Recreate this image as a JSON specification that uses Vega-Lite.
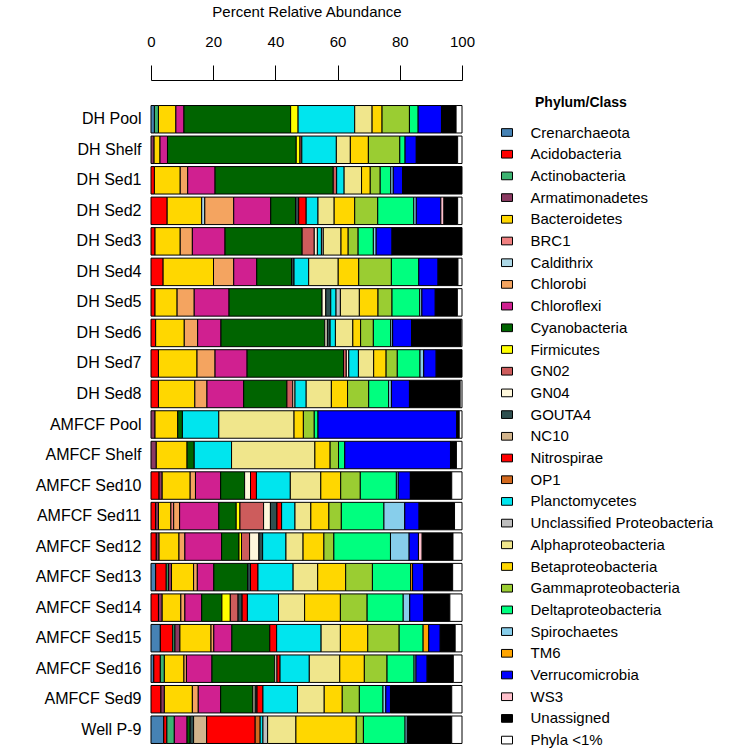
{
"$schema": "https://vega.github.io/schema/vega-lite/v6.json",
"width": 311, "height": 641,
"autosize": {"type": "none"},
"padding": {"left": 151, "top": 104, "right": 282, "bottom": 3},
"background": "white",
"config": {"view": {"stroke": null}, "font": "Liberation Sans"},
"datasets": {"ph": [
{"p":"Cren","n":"Crenarchaeota","k":1},{"p":"Acid","n":"Acidobacteria","k":2},{"p":"Acti","n":"Actinobacteria","k":3},{"p":"Arma","n":"Armatimonadetes","k":4},{"p":"Bact","n":"Bacteroidetes","k":5},{"p":"BRC1","n":"BRC1","k":6},{"p":"Cald","n":"Caldithrix","k":7},{"p":"Chlb","n":"Chlorobi","k":8},{"p":"Chlf","n":"Chloroflexi","k":9},{"p":"Cyan","n":"Cyanobacteria","k":10},{"p":"Firm","n":"Firmicutes","k":11},{"p":"GN02","n":"GN02","k":12},{"p":"GN04","n":"GN04","k":13},{"p":"GOUT","n":"GOUTA4","k":14},{"p":"NC10","n":"NC10","k":15},{"p":"Nitr","n":"Nitrospirae","k":16},{"p":"OP1","n":"OP1","k":17},{"p":"Plan","n":"Planctomycetes","k":18},{"p":"Uncl","n":"Unclassified Proteobacteria","k":19},{"p":"Alph","n":"Alphaproteobacteria","k":20},{"p":"Beta","n":"Betaproteobacteria","k":21},{"p":"Gamm","n":"Gammaproteobacteria","k":22},{"p":"Delt","n":"Deltaproteobacteria","k":23},{"p":"Spir","n":"Spirochaetes","k":24},{"p":"TM6","n":"TM6","k":25},{"p":"Verr","n":"Verrucomicrobia","k":26},{"p":"WS3","n":"WS3","k":27},{"p":"Unas","n":"Unassigned","k":28},{"p":"Phyl","n":"Phyla <1%","k":29}
]},
"data": {"values": [
{"s":"DH Pool","p":"Cren","v":1.1},{"s":"DH Pool","p":"Acti","v":1.3},{"s":"DH Pool","p":"Bact","v":5.6},{"s":"DH Pool","p":"Chlf","v":2.6},{"s":"DH Pool","p":"Cyan","v":34.3},{"s":"DH Pool","p":"Firm","v":2.4},{"s":"DH Pool","p":"Plan","v":18.2},{"s":"DH Pool","p":"Alph","v":5.6},{"s":"DH Pool","p":"Beta","v":3.2},{"s":"DH Pool","p":"Gamm","v":8.8},{"s":"DH Pool","p":"Delt","v":2.8},{"s":"DH Pool","p":"Verr","v":7.5},{"s":"DH Pool","p":"Unas","v":4.7},{"s":"DH Pool","p":"Phyl","v":1.9},
{"s":"DH Shelf","p":"Arma","v":1.0},{"s":"DH Shelf","p":"Bact","v":1.9},{"s":"DH Shelf","p":"Chlf","v":2.4},{"s":"DH Shelf","p":"Cyan","v":41.4},{"s":"DH Shelf","p":"Firm","v":1.2},{"s":"DH Shelf","p":"GN02","v":0.6},{"s":"DH Shelf","p":"Plan","v":11.1},{"s":"DH Shelf","p":"Alph","v":4.5},{"s":"DH Shelf","p":"Beta","v":5.8},{"s":"DH Shelf","p":"Gamm","v":10.1},{"s":"DH Shelf","p":"Delt","v":1.7},{"s":"DH Shelf","p":"Verr","v":3.6},{"s":"DH Shelf","p":"Unas","v":13.3},{"s":"DH Shelf","p":"Phyl","v":1.4},
{"s":"DH Sed1","p":"Acid","v":1.1},{"s":"DH Sed1","p":"Bact","v":8.3},{"s":"DH Sed1","p":"Chlb","v":2.4},{"s":"DH Sed1","p":"Chlf","v":8.8},{"s":"DH Sed1","p":"Cyan","v":38.0},{"s":"DH Sed1","p":"GN02","v":1.1},{"s":"DH Sed1","p":"Plan","v":2.4},{"s":"DH Sed1","p":"Alph","v":5.6},{"s":"DH Sed1","p":"Beta","v":2.8},{"s":"DH Sed1","p":"Gamm","v":3.2},{"s":"DH Sed1","p":"Delt","v":3.4},{"s":"DH Sed1","p":"Spir","v":0.8},{"s":"DH Sed1","p":"Verr","v":3.0},{"s":"DH Sed1","p":"Unas","v":19.1},
{"s":"DH Sed2","p":"Acid","v":5.2},{"s":"DH Sed2","p":"Bact","v":11.1},{"s":"DH Sed2","p":"Cald","v":1.0},{"s":"DH Sed2","p":"Chlb","v":9.3},{"s":"DH Sed2","p":"Chlf","v":11.9},{"s":"DH Sed2","p":"Cyan","v":8.0},{"s":"DH Sed2","p":"GOUT","v":1.0},{"s":"DH Sed2","p":"Nitr","v":2.4},{"s":"DH Sed2","p":"Plan","v":3.8},{"s":"DH Sed2","p":"Alph","v":5.2},{"s":"DH Sed2","p":"Beta","v":6.6},{"s":"DH Sed2","p":"Gamm","v":7.4},{"s":"DH Sed2","p":"Delt","v":11.6},{"s":"DH Sed2","p":"Spir","v":0.8},{"s":"DH Sed2","p":"Verr","v":7.9},{"s":"DH Sed2","p":"WS3","v":1.0},{"s":"DH Sed2","p":"Unas","v":4.4},{"s":"DH Sed2","p":"Phyl","v":1.4},
{"s":"DH Sed3","p":"Acid","v":1.3},{"s":"DH Sed3","p":"Bact","v":8.1},{"s":"DH Sed3","p":"Chlb","v":3.9},{"s":"DH Sed3","p":"Chlf","v":10.5},{"s":"DH Sed3","p":"Cyan","v":24.8},{"s":"DH Sed3","p":"GN02","v":3.9},{"s":"DH Sed3","p":"GN04","v":1.0},{"s":"DH Sed3","p":"Plan","v":1.3},{"s":"DH Sed3","p":"Uncl","v":0.6},{"s":"DH Sed3","p":"Alph","v":5.7},{"s":"DH Sed3","p":"Beta","v":2.3},{"s":"DH Sed3","p":"Gamm","v":3.2},{"s":"DH Sed3","p":"Delt","v":4.9},{"s":"DH Sed3","p":"Spir","v":0.9},{"s":"DH Sed3","p":"Verr","v":5.1},{"s":"DH Sed3","p":"Unas","v":22.5},
{"s":"DH Sed4","p":"Acid","v":3.9},{"s":"DH Sed4","p":"Bact","v":16.2},{"s":"DH Sed4","p":"Chlb","v":6.5},{"s":"DH Sed4","p":"Chlf","v":7.4},{"s":"DH Sed4","p":"Cyan","v":11.2},{"s":"DH Sed4","p":"GOUT","v":0.8},{"s":"DH Sed4","p":"Plan","v":4.7},{"s":"DH Sed4","p":"Alph","v":9.5},{"s":"DH Sed4","p":"Beta","v":6.6},{"s":"DH Sed4","p":"Gamm","v":10.5},{"s":"DH Sed4","p":"Delt","v":8.8},{"s":"DH Sed4","p":"Verr","v":6.2},{"s":"DH Sed4","p":"Unas","v":6.4},{"s":"DH Sed4","p":"Phyl","v":1.3},
{"s":"DH Sed5","p":"Acid","v":1.3},{"s":"DH Sed5","p":"Bact","v":7.1},{"s":"DH Sed5","p":"Chlb","v":5.5},{"s":"DH Sed5","p":"Chlf","v":11.2},{"s":"DH Sed5","p":"Cyan","v":29.9},{"s":"DH Sed5","p":"GN04","v":1.2},{"s":"DH Sed5","p":"GOUT","v":1.6},{"s":"DH Sed5","p":"Plan","v":1.7},{"s":"DH Sed5","p":"Uncl","v":1.4},{"s":"DH Sed5","p":"Alph","v":6.1},{"s":"DH Sed5","p":"Beta","v":6.0},{"s":"DH Sed5","p":"Gamm","v":4.5},{"s":"DH Sed5","p":"Delt","v":8.9},{"s":"DH Sed5","p":"Spir","v":0.7},{"s":"DH Sed5","p":"Verr","v":4.3},{"s":"DH Sed5","p":"Unas","v":7.1},{"s":"DH Sed5","p":"Phyl","v":1.5},
{"s":"DH Sed6","p":"Acid","v":1.5},{"s":"DH Sed6","p":"Bact","v":9.2},{"s":"DH Sed6","p":"Chlb","v":4.3},{"s":"DH Sed6","p":"Chlf","v":7.5},{"s":"DH Sed6","p":"Cyan","v":33.4},{"s":"DH Sed6","p":"GN04","v":0.8},{"s":"DH Sed6","p":"GOUT","v":0.9},{"s":"DH Sed6","p":"Plan","v":1.7},{"s":"DH Sed6","p":"Alph","v":5.6},{"s":"DH Sed6","p":"Beta","v":2.5},{"s":"DH Sed6","p":"Gamm","v":4.1},{"s":"DH Sed6","p":"Delt","v":5.6},{"s":"DH Sed6","p":"Spir","v":0.6},{"s":"DH Sed6","p":"Verr","v":6.1},{"s":"DH Sed6","p":"Unas","v":15.9},{"s":"DH Sed6","p":"Phyl","v":0.3},
{"s":"DH Sed7","p":"Acid","v":2.4},{"s":"DH Sed7","p":"Bact","v":12.4},{"s":"DH Sed7","p":"Chlb","v":5.8},{"s":"DH Sed7","p":"Chlf","v":10.3},{"s":"DH Sed7","p":"Cyan","v":31.0},{"s":"DH Sed7","p":"GN02","v":0.9},{"s":"DH Sed7","p":"GN04","v":0.8},{"s":"DH Sed7","p":"Plan","v":3.1},{"s":"DH Sed7","p":"Alph","v":4.9},{"s":"DH Sed7","p":"Beta","v":4.0},{"s":"DH Sed7","p":"Gamm","v":3.6},{"s":"DH Sed7","p":"Delt","v":7.3},{"s":"DH Sed7","p":"Spir","v":1.2},{"s":"DH Sed7","p":"Verr","v":4.0},{"s":"DH Sed7","p":"Unas","v":8.3},
{"s":"DH Sed8","p":"Acid","v":2.4},{"s":"DH Sed8","p":"Bact","v":11.7},{"s":"DH Sed8","p":"Chlb","v":3.9},{"s":"DH Sed8","p":"Chlf","v":11.8},{"s":"DH Sed8","p":"Cyan","v":13.9},{"s":"DH Sed8","p":"GN02","v":1.9},{"s":"DH Sed8","p":"GN04","v":0.7},{"s":"DH Sed8","p":"Plan","v":3.6},{"s":"DH Sed8","p":"Alph","v":8.1},{"s":"DH Sed8","p":"Beta","v":5.2},{"s":"DH Sed8","p":"Gamm","v":6.8},{"s":"DH Sed8","p":"Delt","v":6.4},{"s":"DH Sed8","p":"Spir","v":0.9},{"s":"DH Sed8","p":"Verr","v":5.8},{"s":"DH Sed8","p":"Unas","v":16.3},{"s":"DH Sed8","p":"Phyl","v":0.6},
{"s":"AMFCF Pool","p":"Arma","v":1.3},{"s":"AMFCF Pool","p":"Bact","v":7.3},{"s":"AMFCF Pool","p":"Cyan","v":1.5},{"s":"AMFCF Pool","p":"Plan","v":11.7},{"s":"AMFCF Pool","p":"Alph","v":24.2},{"s":"AMFCF Pool","p":"Beta","v":3.0},{"s":"AMFCF Pool","p":"Gamm","v":3.5},{"s":"AMFCF Pool","p":"Delt","v":1.2},{"s":"AMFCF Pool","p":"Verr","v":44.6},{"s":"AMFCF Pool","p":"Unas","v":0.8},{"s":"AMFCF Pool","p":"Phyl","v":0.9},
{"s":"AMFCF Shelf","p":"Arma","v":1.7},{"s":"AMFCF Shelf","p":"Bact","v":9.9},{"s":"AMFCF Shelf","p":"Cyan","v":2.3},{"s":"AMFCF Shelf","p":"Plan","v":12.0},{"s":"AMFCF Shelf","p":"Alph","v":26.8},{"s":"AMFCF Shelf","p":"Beta","v":4.9},{"s":"AMFCF Shelf","p":"Gamm","v":2.7},{"s":"AMFCF Shelf","p":"Delt","v":2.0},{"s":"AMFCF Shelf","p":"Verr","v":34.0},{"s":"AMFCF Shelf","p":"Unas","v":1.9},{"s":"AMFCF Shelf","p":"Phyl","v":1.8},
{"s":"AMFCF Sed10","p":"Acid","v":2.6},{"s":"AMFCF Sed10","p":"Arma","v":1.0},{"s":"AMFCF Sed10","p":"Bact","v":9.0},{"s":"AMFCF Sed10","p":"Chlb","v":1.7},{"s":"AMFCF Sed10","p":"Chlf","v":8.1},{"s":"AMFCF Sed10","p":"Cyan","v":7.7},{"s":"AMFCF Sed10","p":"GN04","v":1.9},{"s":"AMFCF Sed10","p":"Nitr","v":1.9},{"s":"AMFCF Sed10","p":"Plan","v":10.9},{"s":"AMFCF Sed10","p":"Alph","v":9.8},{"s":"AMFCF Sed10","p":"Beta","v":6.4},{"s":"AMFCF Sed10","p":"Gamm","v":6.3},{"s":"AMFCF Sed10","p":"Delt","v":11.6},{"s":"AMFCF Sed10","p":"Spir","v":0.6},{"s":"AMFCF Sed10","p":"Verr","v":3.9},{"s":"AMFCF Sed10","p":"Unas","v":13.3},{"s":"AMFCF Sed10","p":"Phyl","v":3.3},
{"s":"AMFCF Sed11","p":"Acid","v":1.5},{"s":"AMFCF Sed11","p":"Arma","v":0.9},{"s":"AMFCF Sed11","p":"Bact","v":4.0},{"s":"AMFCF Sed11","p":"BRC1","v":0.9},{"s":"AMFCF Sed11","p":"Chlb","v":1.9},{"s":"AMFCF Sed11","p":"Chlf","v":12.6},{"s":"AMFCF Sed11","p":"Cyan","v":5.6},{"s":"AMFCF Sed11","p":"Firm","v":1.2},{"s":"AMFCF Sed11","p":"GN02","v":7.6},{"s":"AMFCF Sed11","p":"GN04","v":2.2},{"s":"AMFCF Sed11","p":"GOUT","v":2.1},{"s":"AMFCF Sed11","p":"Nitr","v":1.5},{"s":"AMFCF Sed11","p":"Plan","v":4.3},{"s":"AMFCF Sed11","p":"Alph","v":5.1},{"s":"AMFCF Sed11","p":"Beta","v":5.8},{"s":"AMFCF Sed11","p":"Gamm","v":4.0},{"s":"AMFCF Sed11","p":"Delt","v":13.7},{"s":"AMFCF Sed11","p":"Spir","v":6.7},{"s":"AMFCF Sed11","p":"Verr","v":4.6},{"s":"AMFCF Sed11","p":"Unas","v":11.4},{"s":"AMFCF Sed11","p":"Phyl","v":2.4},
{"s":"AMFCF Sed12","p":"Acid","v":1.7},{"s":"AMFCF Sed12","p":"Arma","v":0.9},{"s":"AMFCF Sed12","p":"Bact","v":6.4},{"s":"AMFCF Sed12","p":"Chlb","v":1.9},{"s":"AMFCF Sed12","p":"Chlf","v":11.8},{"s":"AMFCF Sed12","p":"Cyan","v":5.6},{"s":"AMFCF Sed12","p":"Firm","v":0.8},{"s":"AMFCF Sed12","p":"GN02","v":2.6},{"s":"AMFCF Sed12","p":"GN04","v":3.0},{"s":"AMFCF Sed12","p":"GOUT","v":1.2},{"s":"AMFCF Sed12","p":"Plan","v":7.5},{"s":"AMFCF Sed12","p":"Alph","v":5.5},{"s":"AMFCF Sed12","p":"Beta","v":6.7},{"s":"AMFCF Sed12","p":"Gamm","v":3.2},{"s":"AMFCF Sed12","p":"Delt","v":18.2},{"s":"AMFCF Sed12","p":"Spir","v":6.0},{"s":"AMFCF Sed12","p":"Verr","v":3.0},{"s":"AMFCF Sed12","p":"WS3","v":1.2},{"s":"AMFCF Sed12","p":"Unas","v":9.9},{"s":"AMFCF Sed12","p":"Phyl","v":2.9},
{"s":"AMFCF Sed13","p":"Cren","v":1.5},{"s":"AMFCF Sed13","p":"Acid","v":3.4},{"s":"AMFCF Sed13","p":"Acti","v":0.7},{"s":"AMFCF Sed13","p":"Arma","v":1.0},{"s":"AMFCF Sed13","p":"Bact","v":7.1},{"s":"AMFCF Sed13","p":"Chlb","v":1.2},{"s":"AMFCF Sed13","p":"Chlf","v":5.3},{"s":"AMFCF Sed13","p":"Cyan","v":10.9},{"s":"AMFCF Sed13","p":"GOUT","v":0.9},{"s":"AMFCF Sed13","p":"Nitr","v":2.4},{"s":"AMFCF Sed13","p":"Plan","v":11.3},{"s":"AMFCF Sed13","p":"Alph","v":7.9},{"s":"AMFCF Sed13","p":"Beta","v":9.0},{"s":"AMFCF Sed13","p":"Gamm","v":8.6},{"s":"AMFCF Sed13","p":"Delt","v":12.3},{"s":"AMFCF Sed13","p":"TM6","v":0.6},{"s":"AMFCF Sed13","p":"Verr","v":3.6},{"s":"AMFCF Sed13","p":"Unas","v":9.3},{"s":"AMFCF Sed13","p":"Phyl","v":3.0},
{"s":"AMFCF Sed14","p":"Acid","v":2.4},{"s":"AMFCF Sed14","p":"Arma","v":1.2},{"s":"AMFCF Sed14","p":"Bact","v":6.0},{"s":"AMFCF Sed14","p":"Chlb","v":1.3},{"s":"AMFCF Sed14","p":"Chlf","v":5.4},{"s":"AMFCF Sed14","p":"Cyan","v":6.5},{"s":"AMFCF Sed14","p":"Firm","v":2.7},{"s":"AMFCF Sed14","p":"GN02","v":2.5},{"s":"AMFCF Sed14","p":"GOUT","v":1.3},{"s":"AMFCF Sed14","p":"Nitr","v":1.7},{"s":"AMFCF Sed14","p":"Plan","v":10.0},{"s":"AMFCF Sed14","p":"Alph","v":8.4},{"s":"AMFCF Sed14","p":"Beta","v":11.5},{"s":"AMFCF Sed14","p":"Gamm","v":8.6},{"s":"AMFCF Sed14","p":"Delt","v":11.6},{"s":"AMFCF Sed14","p":"Spir","v":2.1},{"s":"AMFCF Sed14","p":"Verr","v":4.5},{"s":"AMFCF Sed14","p":"Unas","v":8.4},{"s":"AMFCF Sed14","p":"Phyl","v":3.9},
{"s":"AMFCF Sed15","p":"Cren","v":3.0},{"s":"AMFCF Sed15","p":"Acid","v":4.0},{"s":"AMFCF Sed15","p":"Acti","v":0.7},{"s":"AMFCF Sed15","p":"Arma","v":1.6},{"s":"AMFCF Sed15","p":"Bact","v":10.0},{"s":"AMFCF Sed15","p":"Chlb","v":0.9},{"s":"AMFCF Sed15","p":"Chlf","v":5.8},{"s":"AMFCF Sed15","p":"Cyan","v":12.2},{"s":"AMFCF Sed15","p":"Nitr","v":2.2},{"s":"AMFCF Sed15","p":"Plan","v":14.3},{"s":"AMFCF Sed15","p":"Alph","v":6.2},{"s":"AMFCF Sed15","p":"Beta","v":8.8},{"s":"AMFCF Sed15","p":"Gamm","v":10.1},{"s":"AMFCF Sed15","p":"Delt","v":7.7},{"s":"AMFCF Sed15","p":"TM6","v":1.8},{"s":"AMFCF Sed15","p":"Verr","v":3.7},{"s":"AMFCF Sed15","p":"Unas","v":4.8},{"s":"AMFCF Sed15","p":"Phyl","v":2.2},
{"s":"AMFCF Sed16","p":"Cren","v":0.9},{"s":"AMFCF Sed16","p":"Acid","v":2.1},{"s":"AMFCF Sed16","p":"Acti","v":1.3},{"s":"AMFCF Sed16","p":"Bact","v":6.3},{"s":"AMFCF Sed16","p":"Chlb","v":0.8},{"s":"AMFCF Sed16","p":"Chlf","v":8.2},{"s":"AMFCF Sed16","p":"Cyan","v":20.2},{"s":"AMFCF Sed16","p":"GN04","v":0.7},{"s":"AMFCF Sed16","p":"Nitr","v":1.0},{"s":"AMFCF Sed16","p":"Plan","v":9.4},{"s":"AMFCF Sed16","p":"Alph","v":9.8},{"s":"AMFCF Sed16","p":"Beta","v":7.9},{"s":"AMFCF Sed16","p":"Gamm","v":7.3},{"s":"AMFCF Sed16","p":"Delt","v":8.7},{"s":"AMFCF Sed16","p":"Spir","v":0.6},{"s":"AMFCF Sed16","p":"Verr","v":3.6},{"s":"AMFCF Sed16","p":"Unas","v":8.4},{"s":"AMFCF Sed16","p":"Phyl","v":2.8},
{"s":"AMFCF Sed9","p":"Acid","v":3.2},{"s":"AMFCF Sed9","p":"Arma","v":1.1},{"s":"AMFCF Sed9","p":"Bact","v":9.0},{"s":"AMFCF Sed9","p":"Chlb","v":1.9},{"s":"AMFCF Sed9","p":"Chlf","v":7.2},{"s":"AMFCF Sed9","p":"Cyan","v":10.4},{"s":"AMFCF Sed9","p":"GN04","v":0.7},{"s":"AMFCF Sed9","p":"GOUT","v":0.6},{"s":"AMFCF Sed9","p":"Nitr","v":1.9},{"s":"AMFCF Sed9","p":"Plan","v":11.1},{"s":"AMFCF Sed9","p":"Alph","v":8.6},{"s":"AMFCF Sed9","p":"Beta","v":5.8},{"s":"AMFCF Sed9","p":"Gamm","v":5.5},{"s":"AMFCF Sed9","p":"Delt","v":7.6},{"s":"AMFCF Sed9","p":"Spir","v":0.9},{"s":"AMFCF Sed9","p":"Verr","v":1.5},{"s":"AMFCF Sed9","p":"Unas","v":19.7},{"s":"AMFCF Sed9","p":"Phyl","v":3.3},
{"s":"Well P-9","p":"Cren","v":4.1},{"s":"Well P-9","p":"Acid","v":1.0},{"s":"Well P-9","p":"Acti","v":2.4},{"s":"Well P-9","p":"Chlf","v":4.1},{"s":"Well P-9","p":"Cyan","v":1.0},{"s":"Well P-9","p":"GOUT","v":1.1},{"s":"Well P-9","p":"NC10","v":4.2},{"s":"Well P-9","p":"Nitr","v":15.6},{"s":"Well P-9","p":"OP1","v":1.6},{"s":"Well P-9","p":"Plan","v":0.9},{"s":"Well P-9","p":"Uncl","v":1.5},{"s":"Well P-9","p":"Alph","v":9.1},{"s":"Well P-9","p":"Beta","v":19.4},{"s":"Well P-9","p":"Gamm","v":2.3},{"s":"Well P-9","p":"Delt","v":13.4},{"s":"Well P-9","p":"Spir","v":0.7},{"s":"Well P-9","p":"Unas","v":14.3},{"s":"Well P-9","p":"Phyl","v":3.3}
]},
"transform": [{"lookup": "p", "from": {"data": {"name": "ph"}, "key": "p", "fields": ["n", "k"]}}],
"mark": {"type": "bar", "stroke": "black", "strokeWidth": 1},
"encoding": {
"y": {"field": "s", "type": "nominal",
 "sort": ["DH Pool","DH Shelf","DH Sed1","DH Sed2","DH Sed3","DH Sed4","DH Sed5","DH Sed6","DH Sed7","DH Sed8","AMFCF Pool","AMFCF Shelf","AMFCF Sed10","AMFCF Sed11","AMFCF Sed12","AMFCF Sed13","AMFCF Sed14","AMFCF Sed15","AMFCF Sed16","AMFCF Sed9","Well P-9"],
 "scale": {"paddingInner": 0.1, "paddingOuter": 0.05},
 "axis": {"title": null, "domain": false, "ticks": false, "tickSize": 0, "labelPadding": 10, "labelFontSize": 16, "labelColor": "black"}},
"x": {"field": "v", "type": "quantitative", "stack": "zero",
 "scale": {"domain": [0, 100], "nice": false},
 "axis": {"orient": "top", "values": [0, 20, 40, 60, 80, 100], "grid": false, "offset": 24, "tickSize": 15, "labelPadding": 16, "labelFlush": false, "title": "Percent Relative Abundance", "titlePadding": 15, "titleFontWeight": "normal", "titleFontSize": 15, "labelFontSize": 15, "domainColor": "black", "tickColor": "black", "labelColor": "black", "titleColor": "black"}},
"color": {"field": "n", "type": "nominal",
 "scale": {"domain": ["Crenarchaeota","Acidobacteria","Actinobacteria","Armatimonadetes","Bacteroidetes","BRC1","Caldithrix","Chlorobi","Chloroflexi","Cyanobacteria","Firmicutes","GN02","GN04","GOUTA4","NC10","Nitrospirae","OP1","Planctomycetes","Unclassified Proteobacteria","Alphaproteobacteria","Betaproteobacteria","Gammaproteobacteria","Deltaproteobacteria","Spirochaetes","TM6","Verrucomicrobia","WS3","Unassigned","Phyla <1%"],
  "range": ["#4682B4","#FF0000","#3CB371","#8B3A62","#FFD700","#F08080","#ADD8E6","#F4A460","#D02090","#006400","#FFFF00","#CD5C5C","#FFF8DC","#2F4F4F","#D2B48C","#FF0000","#D2691E","#00E5EE","#BEBEBE","#F0E68C","#FFD700","#9ACD32","#00FF7F","#87CEEB","#FFA500","#0000FF","#FFC0CB","#000000","#FFFFFF"]},
 "legend": {"orient": "none", "legendX": 384, "legendY": -8, "title": "Phylum/Class", "titleFontSize": 14, "titleFontWeight": "bold", "titleColor": "black", "titleAnchor": "start", "titleAlign": "left", "titlePadding": 15, "labelFontSize": 15, "labelColor": "black", "symbolOffset": -35.5, "labelOffset": 16, "labelLimit": 300, "symbolType": "M-1,-0.7H1V0.7H-1Z", "symbolSize": 121, "symbolStrokeColor": "black", "symbolStrokeWidth": 1, "rowPadding": 5.7, "padding": 0}},
"order": {"field": "k", "type": "quantitative", "sort": "ascending"}
}
}
